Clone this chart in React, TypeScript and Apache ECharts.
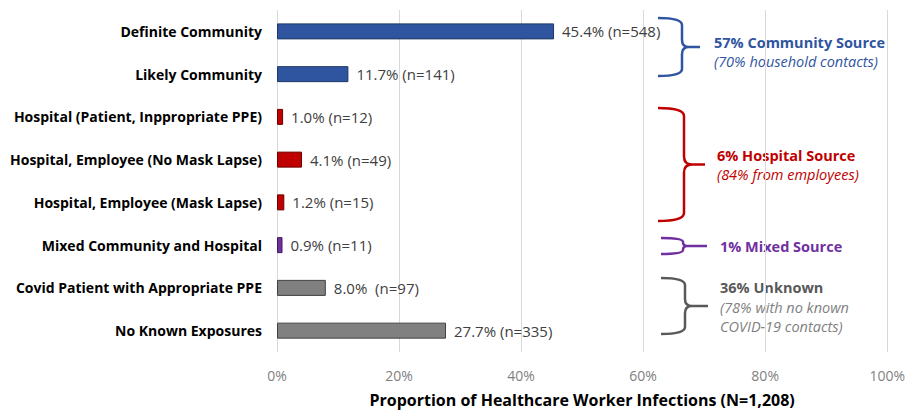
import React, { useEffect, useRef } from "react";
import * as echarts from "echarts";

const categories = [
  "Definite Community",
  "Likely Community",
  "Hospital (Patient, Inppropriate PPE)",
  "Hospital, Employee (No Mask Lapse)",
  "Hospital, Employee (Mask Lapse)",
  "Mixed Community and Hospital",
  "Covid Patient with Appropriate PPE",
  "No Known Exposures",
];
const percents = [45.4, 11.7, 1.0, 4.1, 1.2, 0.9, 8.0, 27.7];
const labelTexts = [
  "45.4% (n=548)",
  "11.7% (n=141)",
  "1.0% (n=12)",
  "4.1% (n=49)",
  "1.2% (n=15)",
  "0.9% (n=11)",
  "8.0%  (n=97)",
  "27.7% (n=335)",
];
const groups = ["community", "community", "hospital", "hospital", "hospital", "mixed", "unknown", "unknown"];
const xTicks = [0, 20, 40, 60, 80, 100];

const palette: Record<string, { fill: string; border: string }> = {
  community: { fill: "#2F55A0", border: "#1F3864" },
  hospital: { fill: "#C00000", border: "#6E0000" },
  mixed: { fill: "#7030A0", border: "#3D1A5A" },
  unknown: { fill: "#808080", border: "#404040" },
};

const FONT = "'Open Sans', Lato, sans-serif";

function bracePath(x0: number, y0: number, y1: number, x1: number, xt: number, r: number) {
  const ym = (y0 + y1) / 2;
  return (
    `M${x0} ${y0} Q${x1} ${y0} ${x1} ${y0 + r} L${x1} ${ym - r} Q${x1} ${ym} ${x1 + r} ${ym} L${xt} ${ym} ` +
    `M${x1 + r} ${ym} Q${x1} ${ym} ${x1} ${ym + r} L${x1} ${y1 - r} Q${x1} ${y1} ${x0} ${y1}`
  );
}

const braces = [
  { name: "braceCommunity", d: bracePath(658, 18, 76, 682, 700, 7), color: "#2F55A0" },
  { name: "braceHospital", d: bracePath(658, 108, 221, 684, 705, 8), color: "#C00000" },
  { name: "braceMixed", d: bracePath(661, 238, 254, 683, 707, 4), color: "#7030A0" },
  { name: "braceUnknown", d: bracePath(661, 278, 334, 685, 708, 7), color: "#595959" },
];
braces.forEach((b) => {
  echarts.graphic.registerShape(b.name, echarts.graphic.extendPath(b.d, {}));
});

export default function App() {
  const ref = useRef<HTMLDivElement>(null);
  useEffect(() => {
    document.body.style.margin = "0";
    if (!ref.current) return;
    const chart = echarts.init(ref.current, undefined, { renderer: "svg" });
    const txt = (x: number, y: number, text: string, color: string, bold: boolean, italic = false) => ({
      type: "text",
      x,
      y,
      style: {
        text,
        fill: color,
        font: `${italic ? "italic " : ""}${bold ? "bold " : ""}14.5px ${FONT}`,
        lineHeight: 16,
        textVerticalAlign: "middle",
      },
    });
    chart.setOption({
      animation: false,
      backgroundColor: "#ffffff",
      grid: { left: 277, right: 20, top: 10, bottom: 61, containLabel: false },
      xAxis: {
        type: "value",
        min: 0,
        max: 100,
        interval: 20,
        axisLine: { show: false },
        axisTick: { show: false },
        splitLine: { show: true, lineStyle: { color: "#D9D9D9", width: 1 } },
        axisLabel: {
          formatter: (v: number) => (xTicks.includes(v) ? `${v}%` : ""),
          color: "#7F7F7F",
          fontSize: 14,
          fontFamily: FONT,
          margin: 16,
        },
        name: "Proportion of Healthcare Worker Infections (N=1,208)",
        nameLocation: "middle",
        nameGap: 40,
        nameTextStyle: { fontSize: 16, fontWeight: "bold", color: "#000000", fontFamily: FONT },
      },
      yAxis: {
        type: "category",
        data: categories,
        inverse: true,
        axisLine: { show: false },
        axisTick: { show: false },
        axisLabel: { color: "#000000", fontSize: 14, fontWeight: "bold", fontFamily: FONT, margin: 15 },
      },
      series: [
        {
          type: "bar",
          barWidth: 16,
          data: percents.map((v, i) => ({
            value: v,
            itemStyle: {
              color: palette[groups[i]].fill,
              borderColor: palette[groups[i]].border,
              borderWidth: 1,
            },
          })),
          label: {
            show: true,
            position: "right",
            distance: 8,
            formatter: (p: any) => labelTexts[p.dataIndex],
            color: "#404040",
            fontSize: 15,
            fontFamily: FONT,
          },
        },
      ],
      graphic: [
        ...braces.map((b) => ({
          type: b.name,
          x: 0,
          y: 0,
          style: { stroke: b.color, lineWidth: 2.5, fill: "none" },
        })),
        txt(714, 42, "57% Community Source", "#2F55A0", true),
        txt(714, 61, "(70% household contacts)", "#2F55A0", false, true),
        txt(717, 155, "6% Hospital Source", "#C00000", true),
        txt(717, 174, "(84% from employees)", "#C00000", false, true),
        txt(720, 246, "1% Mixed Source", "#7030A0", true),
        txt(720, 287, "36% Unknown", "#595959", true),
        txt(720, 307, "(78% with no known", "#7F7F7F", false, true),
        txt(720, 326, "COVID-19 contacts)", "#7F7F7F", false, true),
      ],
    });
    return () => chart.dispose();
  }, []);
  return <div ref={ref} style={{ width: 908, height: 413 }} />;
}
